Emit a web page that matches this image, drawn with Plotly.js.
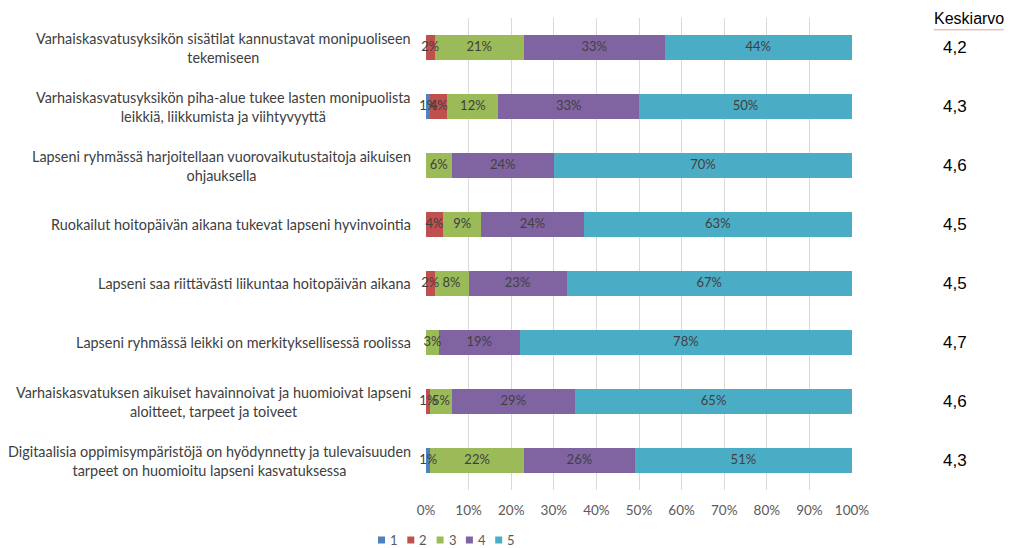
<!DOCTYPE html>
<html><head><meta charset="utf-8">
<script src="https://cdn.plot.ly/plotly-3.0.1.min.js"></script>
<style>html,body{margin:0;padding:0;background:#fff;}#c{width:1015px;height:548px;}</style>
</head><body><div id="c"></div>
<script>
const categories = [
  "Varhaiskasvatusyksikön sisätilat kannustavat monipuoliseen<br>tekemiseen",
  "Varhaiskasvatusyksikön piha-alue tukee lasten monipuolista<br>leikkiä, liikkumista ja viihtyvyyttä",
  "Lapseni ryhmässä harjoitellaan vuorovaikutustaitoja aikuisen<br>ohjauksella",
  "Ruokailut hoitopäivän aikana tukevat lapseni hyvinvointia",
  "Lapseni saa riittävästi liikuntaa hoitopäivän aikana",
  "Lapseni ryhmässä leikki on merkityksellisessä roolissa",
  "Varhaiskasvatuksen aikuiset havainnoivat ja huomioivat lapseni<br>aloitteet, tarpeet ja toiveet",
  "Digitaalisia oppimisympäristöjä on hyödynnetty ja tulevaisuuden<br>tarpeet on huomioitu lapseni kasvatuksessa"
];
const s1 = [0, 1, 0, 0, 0, 0, 0, 1];
const s2 = [2, 4, 0, 4, 2, 0, 1, 0];
const s3 = [21, 12, 6, 9, 8, 3, 5, 22];
const s4 = [33, 33, 24, 24, 23, 19, 29, 26];
const s5 = [44, 50, 70, 63, 67, 78, 65, 51];
const seriesNames = ["1", "2", "3", "4", "5"];
const keskiarvo = ["4,2", "4,3", "4,6", "4,5", "4,5", "4,7", "4,6", "4,3"];
const tickVals = [0,10,20,30,40,50,60,70,80,90,100];
const tickText = ["0%","10%","20%","30%","40%","50%","60%","70%","80%","90%","100%"];

const colors = ["#4F81BD", "#C0504D", "#9BBB59", "#8064A2", "#4BACC6"];
const allSeries = [s1, s2, s3, s4, s5];
const FONT = "Lato, 'Liberation Sans', sans-serif";
const PLOT_L = 426, PLOT_W = 426, PLOT_B = 490, PLOT_H = 472;
const px = x => (x - PLOT_L) / PLOT_W;
const py = y => (PLOT_B - y) / PLOT_H;

const data = allSeries.map((vals, i) => ({
  type: "bar",
  orientation: "h",
  name: seriesNames[i],
  x: vals,
  y: categories,
  width: 0.41,
  marker: {color: colors[i]},
  hoverinfo: "none",
  showlegend: false
}));

// data labels drawn on top of all bars (centered on each segment)
const base = categories.map(() => 0);
allSeries.forEach((vals) => {
  const xs = [], ys = [], ts = [];
  vals.forEach((v, j) => {
    if (v > 0) { xs.push(base[j] + v / 2); ys.push(categories[j]); ts.push(v + "%"); }
    base[j] += v;
  });
  data.push({
    type: "scatter", mode: "text", x: xs, y: ys, text: ts,
    textposition: "middle center", cliponaxis: false,
    textfont: {family: FONT, size: 13, color: "#404040"},
    hoverinfo: "none", showlegend: false
  });
});

const annotations = [];
categories.forEach(c => annotations.push({
  xref: "paper", yref: "y", x: 0, xshift: -13, y: c,
  text: c, showarrow: false, align: "center",
  xanchor: "right", yanchor: "middle",
  font: {family: FONT, size: 14.4, color: "#404040"}
}));
keskiarvo.forEach((k, i) => annotations.push({
  xref: "paper", yref: "y", x: 1.242, y: categories[i],
  text: k, showarrow: false,
  font: {family: "'Liberation Sans', Arial, sans-serif", size: 17, color: "#000"},
  xanchor: "center", yanchor: "middle"
}));
annotations.push({
  xref: "paper", yref: "paper", x: 1.274, y: 1.0,
  text: "Keskiarvo", showarrow: false,
  font: {family: "'Liberation Sans', Arial, sans-serif", size: 16, color: "#000"},
  xanchor: "center", yanchor: "middle"
});

const shapes = [{
  type: "line", xref: "paper", yref: "paper",
  x0: 1.192, x1: 1.356, y0: 0.975, y1: 0.975,
  line: {color: "#e8a0a8", width: 1}
}];

// compact legend (Excel style)
const legendX0 = 378, legendStep = 29.3, legendY = 540;
seriesNames.forEach((n, i) => {
  const sx = legendX0 + i * legendStep;
  shapes.push({
    type: "rect", xref: "paper", yref: "paper",
    x0: px(sx), x1: px(sx + 7), y0: py(legendY + 3.5), y1: py(legendY - 3.5),
    fillcolor: colors[i], line: {width: 0}
  });
  annotations.push({
    xref: "paper", yref: "paper", x: px(sx + 10), y: py(legendY),
    text: n, showarrow: false, xanchor: "left", yanchor: "middle",
    font: {family: FONT, size: 13, color: "#595959"}
  });
});

const layout = {
  width: 1015, height: 548,
  margin: {l: 426, r: 163, t: 18, b: 58},
  paper_bgcolor: "#fff", plot_bgcolor: "#fff",
  barmode: "stack",
  showlegend: false,
  xaxis: {
    range: [0, 100], tickvals: tickVals, ticktext: tickText,
    showgrid: true, gridcolor: "#d9d9d9", gridwidth: 1,
    zeroline: false, showline: false,
    ticks: "outside", ticklen: 8, tickcolor: "rgba(0,0,0,0)",
    tickfont: {family: FONT, size: 13.5, color: "#595959"},
    fixedrange: true
  },
  yaxis: {
    autorange: "reversed", showgrid: false, zeroline: false, showline: false,
    showticklabels: false, fixedrange: true
  },
  annotations: annotations,
  shapes: shapes
};

Plotly.newPlot("c", data, layout, {displayModeBar: false, staticPlot: true});
</script>
</body></html>
